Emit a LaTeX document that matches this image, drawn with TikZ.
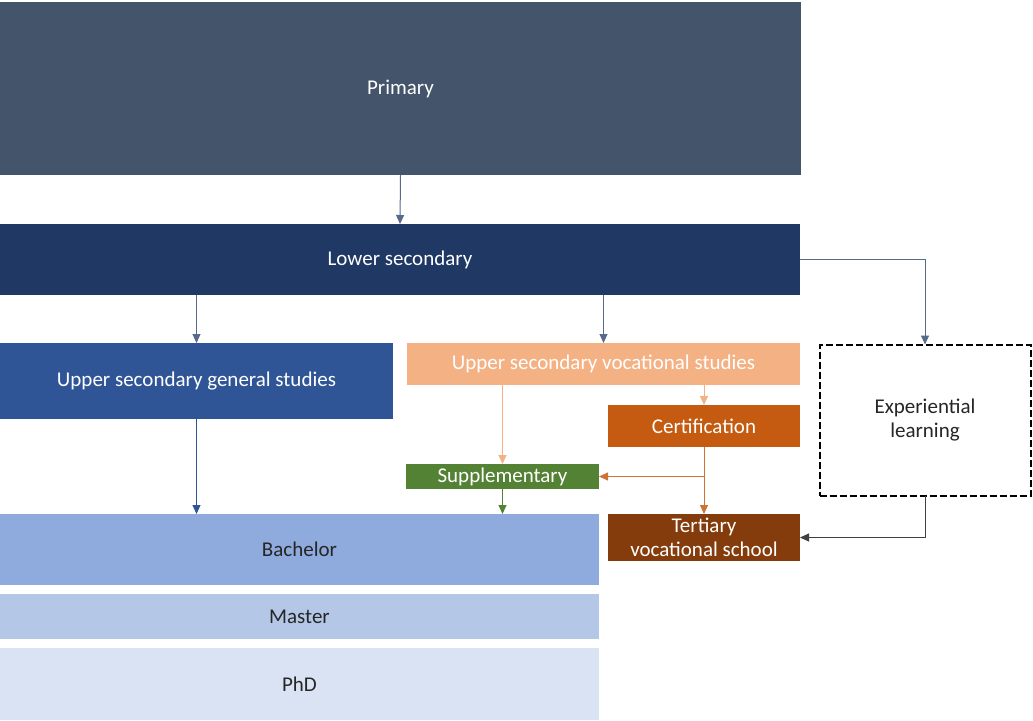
\documentclass[tikz,border=0pt]{standalone}
\usepackage{fontspec}
\setmainfont{Carlito}
\usetikzlibrary{calc,arrows.meta}

\definecolor{primcol}{RGB}{68,84,106}
\definecolor{lowcol}{RGB}{31,56,100}
\definecolor{gencol}{RGB}{47,85,151}
\definecolor{voccol}{RGB}{244,177,131}
\definecolor{certcol}{RGB}{197,90,17}
\definecolor{suppcol}{RGB}{84,130,53}
\definecolor{tertcol}{RGB}{132,60,12}
\definecolor{bachcol}{RGB}{143,170,220}
\definecolor{mastcol}{RGB}{180,199,231}
\definecolor{phdcol}{RGB}{218,227,243}
\definecolor{textgray}{RGB}{38,38,38}

\tikzset{
    level/.style={inner sep=0pt, outer sep=0pt, align=center, text=white,
        font=\fontsize{21}{24}\selectfont},
    arr/.style={-{Triangle[width=8pt,length=9pt]}, line width=1pt}
}

\begin{document}
\begin{tikzpicture}[x=1pt,y=-1pt]

\useasboundingbox (0,0) rectangle (1033,720);

% general track
\node[level, fill=primcol, minimum width=801, minimum height=173] (primary) at (400.5,88.5) {Primary};
\node[level, fill=lowcol, minimum width=800, minimum height=71] (lowsec) at (400,259.5) {Lower secondary};
\node[level, fill=gencol, minimum width=393, minimum height=76] (uppgen) at (196.5,381) {Upper secondary general studies};

% vocational track
\node[level, fill=voccol, minimum width=393, minimum height=42] (uppvoc) at (603.5,364) {Upper secondary vocational studies};
\node[level, fill=certcol, minimum width=192, minimum height=42] (cert) at (704,426) {Certification};
\node[level, fill=suppcol, minimum width=193, minimum height=25] (supp) at (502.5,476.5) {Supplementary};
\node[level, fill=tertcol, minimum width=192, minimum height=47] (tert) at (704,537.5) {Tertiary\\vocational school};

% experiential learning
\node[level, draw=black, line width=2pt, dash pattern=on 7pt off 3pt, fill=white, text=textgray,
    minimum width=211, minimum height=151] (exper) at (925,420) {Experiential\\learning};

% higher education
\node[level, fill=bachcol, text=textgray, minimum width=599, minimum height=71] (bach) at (299.5,549.5) {Bachelor};
\node[level, fill=mastcol, text=textgray, minimum width=599, minimum height=45] (master) at (299.5,616.5) {Master};
\node[level, fill=phdcol, text=textgray, minimum width=599, minimum height=72] (phd) at (299.5,684) {PhD};

% connectors
\draw[arr, lowcol!75] (primary.south) -- (lowsec.north);
\draw[arr, lowcol!75] (lowsec.south -| uppgen.north) -- (uppgen.north);
\draw[arr, lowcol!75] (lowsec.south -| uppvoc.north) -- (uppvoc.north);
\draw[arr, lowcol!75] (lowsec.east) -| (exper.north);
\draw[arr, gencol] (uppgen.south) -- (uppgen.south |- bach.north);

\draw[arr, voccol] (uppvoc.south -| supp.north) -- (supp.north);
\draw[arr, voccol] (uppvoc.south -| cert.north) -- (cert.north);
\draw[arr, certcol!85!white] (cert.south) -- (tert.north);
\draw[arr, certcol!85!white] (cert.south) |- (supp.east);
\draw[arr, suppcol] (supp.south) -- (supp.south |- bach.north);
\draw[arr, black!75] (exper.south) |- (tert.east);

\end{tikzpicture}
\end{document}
